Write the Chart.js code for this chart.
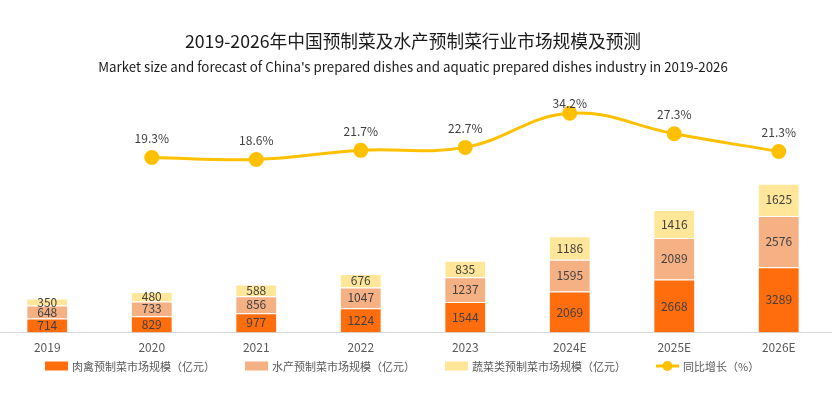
<!DOCTYPE html>
<html>
<head>
<meta charset="utf-8">
<script src="https://cdn.jsdelivr.net/npm/chart.js@4/dist/chart.umd.min.js"></script>
<style>
  html, body { margin: 0; padding: 0; background: #fff; overflow: hidden; }
  #wrap { width: 832px; height: 395px; overflow: hidden; }
  #chart { margin-left: -5px; display: block; }
</style>
</head>
<body>
<div id="wrap"><canvas id="chart" width="837" height="395"></canvas></div>
<script>
const years = ['2019', '2020', '2021', '2022', '2023', '2024E', '2025E', '2026E'];
const meat = [714, 829, 977, 1224, 1544, 2069, 2668, 3289];
const aquatic = [648, 733, 856, 1047, 1237, 1595, 2089, 2576];
const veggie = [350, 480, 588, 676, 835, 1186, 1416, 1625];
const growth = [null, 19.3, 18.6, 21.7, 22.7, 34.2, 27.3, 21.3];

const FONT = '"Noto Sans CJK SC", "Noto Sans", sans-serif';
const C_MEAT = '#FF6D0D';
const C_AQUA = '#F5B084';
const C_VEG = '#FFE699';
const C_LINE = '#FFC000';

// labels inside the bars and over the line points
const valueLabels = {
    id: 'valueLabels',
    afterDatasetsDraw(chart) {
        const ctx = chart.ctx;
        ctx.save();
        ctx.font = '12px ' + FONT;
        ctx.fillStyle = '#404040';
        ctx.textAlign = 'center';
        ctx.textBaseline = 'middle';
        chart.data.datasets.forEach((ds, i) => {
            const meta = chart.getDatasetMeta(i);
            meta.data.forEach((el, j) => {
                const v = ds.data[j];
                if (v == null) return;
                if (ds.type === 'line') {
                    let y = Math.max(el.y - 19, chart.chartArea.top + 14);
                    ctx.fillText(v.toFixed(1) + '%', el.x, y);
                } else {
                    ctx.fillText(v, el.x, (el.y + el.base) / 2);
                }
            });
        });
        ctx.restore();
    }
};

// legend drawn by hand so the row sits close to the axis
const bottomLegend = {
    id: 'bottomLegend',
    afterDraw(chart) {
        const ctx = chart.ctx;
        const ds = chart.data.datasets;
        const order = [1, 2, 3, 0];
        let x = 50;
        const y = 366;
        ctx.save();
        ctx.font = '11px ' + FONT;
        ctx.textBaseline = 'middle';
        ctx.textAlign = 'left';
        order.forEach(di => {
            const d = ds[di];
            if (d.type === 'line') {
                ctx.strokeStyle = d.borderColor;
                ctx.lineWidth = 3;
                ctx.beginPath(); ctx.moveTo(x, y); ctx.lineTo(x + 23, y); ctx.stroke();
                ctx.fillStyle = d.borderColor;
                ctx.beginPath(); ctx.arc(x + 11.5, y, 5, 0, Math.PI * 2); ctx.fill();
            } else {
                ctx.fillStyle = d.backgroundColor;
                ctx.fillRect(x, y - 4.5, 23, 9);
            }
            ctx.fillStyle = '#595959';
            ctx.fillText(d.label, x + 27, y + 0.5);
            x += 27 + ctx.measureText(d.label).width + 30;
        });
        ctx.restore();
    }
};

const ctx = document.getElementById('chart').getContext('2d');
const chart = new Chart(ctx, {
    data: {
        labels: years,
        datasets: [
            {
                type: 'line', label: '同比增长（%）', data: growth, yAxisID: 'y1',
                borderColor: C_LINE, backgroundColor: C_LINE, borderWidth: 3,
                pointRadius: 6, pointHoverRadius: 6, tension: 0.4, order: 0
            },
            {
                type: 'bar', label: '肉禽预制菜市场规模（亿元）', data: meat,
                backgroundColor: C_MEAT, borderColor: 'rgba(255,255,255,0.5)', borderWidth: 1, order: 1
            },
            {
                type: 'bar', label: '水产预制菜市场规模（亿元）', data: aquatic,
                backgroundColor: C_AQUA, borderColor: 'rgba(255,255,255,0.5)', borderWidth: 1, order: 1
            },
            {
                type: 'bar', label: '蔬菜类预制菜市场规模（亿元）', data: veggie,
                backgroundColor: C_VEG, borderColor: 'rgba(255,255,255,0.5)', borderWidth: 1, order: 1
            }
        ]
    },
    options: {
        responsive: false,
        animation: false,
        layout: { autoPadding: false, padding: { top: 31, left: 0, right: 1, bottom: 40 } },
        datasets: { bar: { barPercentage: 0.5, categoryPercentage: 0.8 } },
        scales: {
            x: {
                stacked: true,
                grid: { display: false },
                border: { color: '#d9d9d9', width: 1 },
                ticks: { color: '#595959', font: { family: FONT, size: 12 }, padding: 0 }
            },
            y: {
                stacked: true, display: false, min: 0, max: 12250
            },
            y1: {
                display: false, min: -39.7, max: 42.3
            }
        },
        plugins: {
            title: {
                display: true,
                text: '2019-2026年中国预制菜及水产预制菜行业市场规模及预测',
                color: '#1a1a1a',
                font: { family: FONT, size: 17.7, weight: 'normal' },
                padding: { top: 0, bottom: 7 }
            },
            subtitle: {
                display: true,
                text: "Market size and forecast of China's prepared dishes and aquatic prepared dishes industry in 2019-2026",
                color: '#1a1a1a',
                font: { family: FONT, size: 13.3 },
                padding: { bottom: 14 }
            },
            legend: { display: false },
            tooltip: { enabled: false }
        }
    },
    plugins: [valueLabels, bottomLegend]
});
</script>
</body>
</html>
